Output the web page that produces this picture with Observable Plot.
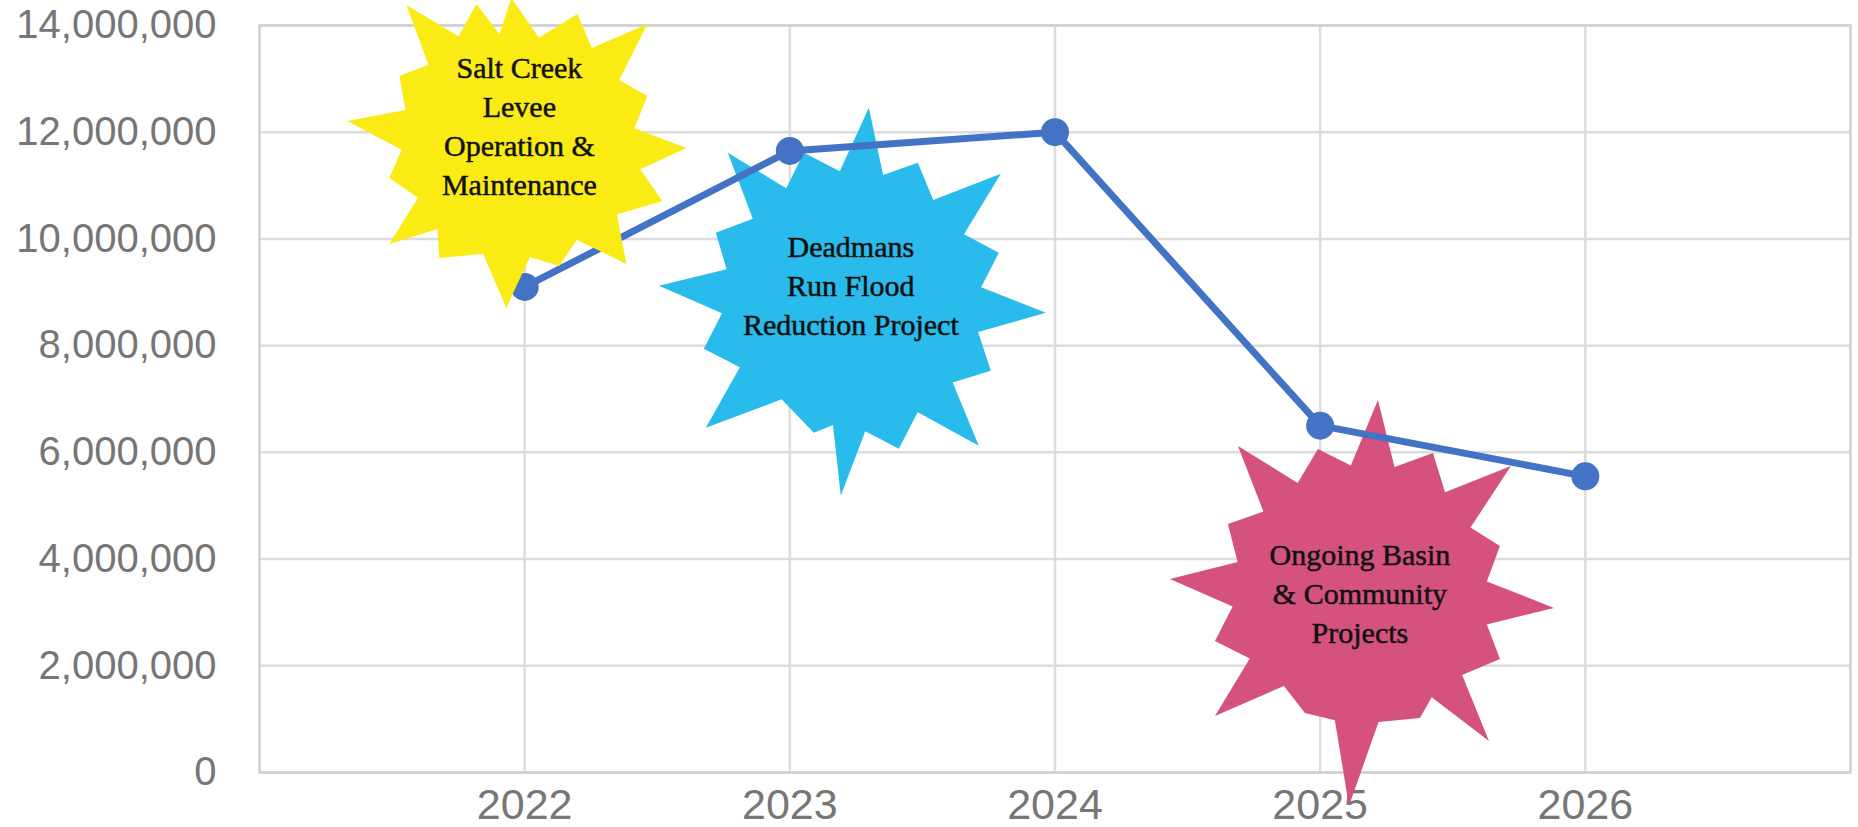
<!DOCTYPE html>
<html><head><meta charset="utf-8">
<script src="https://cdn.jsdelivr.net/npm/d3@7"></script>
<script src="https://cdn.jsdelivr.net/npm/@observablehq/plot@0.6"></script>
<style>
body{margin:0;background:#fff;}
#chart svg{display:block;}
#chart [aria-label^="x-axis"] text{font-size:43px;}
#chart [aria-label^="y-axis"] text{font-size:40px;}
</style></head><body><div id="chart"></div>
<script>
// ---- data ----
const years = [2022, 2023, 2024, 2025, 2026];
const budget = [9100000, 11650000, 12000000, 6500000, 5550000];
const yTickValues = [0, 2000000, 4000000, 6000000, 8000000, 10000000, 12000000, 14000000];
const xTickValues = [2022, 2023, 2024, 2025, 2026];
const projectNames = [
  "Salt Creek\nLevee\nOperation &\nMaintenance",
  "Deadmans\nRun Flood\nReduction Project",
  "Ongoing Basin\n& Community\nProjects"
];
// annotation anchors (in data units: year, dollars)
const projectYear = [2021.98, 2023.23, 2025.15];
const projectLevel = [11650000, 8840000, 3310000];

// ---- shapes (starburst outlines, pixel offsets at r = 100) ----
function burst(tips, k) {
  return {
    draw(ctx, size) {
      const s = Math.sqrt(size / Math.PI) / 100;
      tips.forEach(([x, y], i) => {
        const [nx, ny] = tips[(i + 1) % tips.length];
        if (i === 0) ctx.moveTo(x * s, y * s); else ctx.lineTo(x * s, y * s);
        ctx.lineTo((x + nx) / 2 * k * s, (y + ny) / 2 * k * s);
      });
      ctx.closePath();
    }
  };
}
const yellowTips = [[-113,-146],[-43,-147],[-8,-153],[58,-137],[128,-127],[128,-55],[167,-3],[143,50],[107,113],[40,115],[-13,157],[-80,107],[-130,93],[-130,27],[-172,-30],[-120,-75]];
const blueTips = [[18,-193],[67,-138],[150,-127],[148,-48],[195,12],[140,70],[128,145],[48,148],[-10,195],[-37,132],[-145,127],[-147,48],[-192,-15],[-135,-68],[-123,-148],[-47,-148]];
const pinkTips = [[18,-196],[73,-143],[151,-130],[140,-50],[194,12],[140,63],[129,145],[60,122],[-11,210],[-55,117],[-145,120],[-145,45],[-190,-17],[-132,-72],[-122,-150],[-42,-147]];
const shapes = [burst(yellowTips, 0.78), burst(blueTips, 0.76), burst(pinkTips, 0.76)];
const fills = ["#FAEB14", "#29BBEB", "#D5527E"];
const textDy = [-27, -17, -4];

const series = years.map((y, i) => ({year: y, value: budget[i]}));
const projects = projectNames.map((n, i) => ({name: n, x: projectYear[i], y: projectLevel[i]}));

const starMark = (i) => Plot.dot([projects[i]], {x: "x", y: "y", r: 100, symbol: shapes[i], fill: fills[i], stroke: "none"});
const textMark = (i) => Plot.text([projects[i]], {x: "x", y: "y", text: "name", dy: textDy[i], fontSize: 30, lineHeight: 1.3, fill: "#111", stroke: "#111", strokeWidth: 0.5, fontFamily: "Liberation Serif", style: {letterSpacing: "-0.8px"}});

const chart = Plot.plot({
  width: 1858,
  height: 827,
  marginLeft: 259,
  marginRight: 8,
  marginTop: 25,
  marginBottom: 55,
  style: {fontFamily: "Liberation Sans, Arial, sans-serif", color: "#767676", background: "#fff", overflow: "visible"},
  x: {domain: [2021, 2027], ticks: xTickValues, tickFormat: d => String(d), tickSize: 0, tickPadding: 16, label: null},
  y: {domain: [0, 14000000], ticks: yTickValues, tickFormat: d3.format(","), tickSize: 0, tickPadding: 43, label: null},
  marks: [
    Plot.ruleY(yTickValues, {stroke: "#dcdcdc", strokeWidth: 2.5}),
    Plot.ruleX(xTickValues, {stroke: "#dcdcdc", strokeWidth: 2.5}),
    Plot.frame({stroke: "#d0d0d0", strokeWidth: 2.5}),
    starMark(1),
    starMark(2),
    Plot.line(series, {x: "year", y: "value", stroke: "#4472C4", strokeWidth: 7}),
    Plot.dot(series, {x: "year", y: "value", r: 14, fill: "#4472C4", stroke: "none"}),
    starMark(0),
    textMark(0), textMark(1), textMark(2)
  ]
});
document.getElementById("chart").appendChild(chart);
</script>
</body></html>
